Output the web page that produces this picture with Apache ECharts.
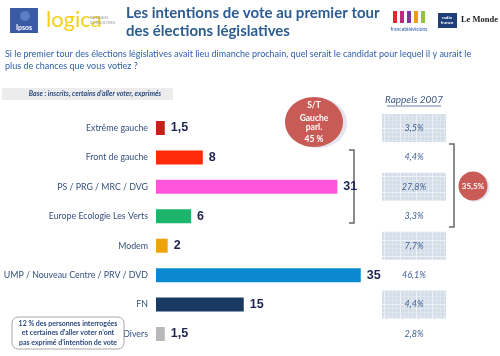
<!DOCTYPE html>
<html><head><meta charset="utf-8">
<script src="https://cdn.jsdelivr.net/npm/echarts@6/dist/echarts.min.js"></script>
<style>html,body{margin:0;padding:0;background:#fff}#c{width:500px;height:356px}</style>
</head><body><div id="c"></div>
<script>
const categories = ["Extrême gauche","Front de gauche","PS / PRG / MRC / DVG","Europe Ecologie Les Verts","Modem","UMP / Nouveau Centre / PRV / DVD","FN","Divers"];
const values = [1.5, 8, 31, 6, 2, 35, 15, 1.5];
const barColors = ["#c4201a","#ff2a0a","#ff55dd","#1db56c","#f0a20c","#0a88d0","#1b3a63","#b9b9b9"];
const rappels2007 = [3.5, 4.4, 27.8, 3.3, 7.7, 46.1, 4.4, 2.8];
const rappelBoxed = [true, false, true, false, true, false, true, false];
const subtotalLeft = "45 %";
const subtotalRight = "35,5%";

const fmt = v => String(v).replace('.', ',');
const FONT = 'Lato';

// grid-paper pattern
const tile = document.createElement('canvas');
tile.width = 16; tile.height = 16;
const g = tile.getContext('2d');
g.fillStyle = '#d4dee9'; g.fillRect(0,0,16,16);
g.fillStyle = '#dfe6ee';
for (let i=0;i<16;i+=4){ g.fillRect(i,0,1,16); g.fillRect(0,i,16,1); }
g.fillStyle = '#eef2f7'; g.fillRect(0,0,1,16); g.fillRect(0,0,16,1);

const chart = echarts.init(document.getElementById('c'), null, {renderer:'canvas'});
const option = {
  backgroundColor:'#ffffff',
  animation:false,
  grid:[
    {left:156, top:113.3, width:234, height:235.4, containLabel:false, outerBoundsMode:'none'},
    {left:382, top:113.3, width:64, height:235.4, containLabel:false, outerBoundsMode:'none'}
  ],
  xAxis:[
    {type:'value', gridIndex:0, min:0, max:40, show:false},
    {type:'value', gridIndex:1, min:0, max:1, show:false}
  ],
  yAxis:[
    {type:'category', gridIndex:0, data:categories, inverse:true,
     axisLine:{show:false}, axisTick:{show:false}, splitLine:{show:false},
     axisLabel:{color:'#34507f', fontSize:8.8, fontFamily:FONT, margin:8}},
    {type:'category', gridIndex:1, data:categories, inverse:true, show:false}
  ],
  series:[
    {type:'bar', xAxisIndex:0, yAxisIndex:0, barWidth:14,
     data: values.map((v,i)=>({value:v, itemStyle:{color:barColors[i]}})),
     label:{show:true, position:'right', distance:6, formatter:p=>fmt(p.value),
            color:'#1f2452', fontSize:12.5, fontWeight:'bold', fontFamily:'Liberation Sans'}},
    {type:'custom', xAxisIndex:1, yAxisIndex:1,
     data: rappels2007.map((v,i)=>[i, v]),
     encode:{y:0, x:1},
     renderItem:(params, api)=>{
       const idx = api.value(0);
       const c = api.coord([0, idx]);
       const x0 = params.coordSys.x, w = params.coordSys.width;
       const children = [];
       if (rappelBoxed[idx]) {
         children.push({type:'rect', shape:{x:x0, y:c[1]-14, width:w, height:28},
           style:{fill:{image:tile, repeat:'repeat'}}});
       }
       children.push({type:'text', style:{text:fmt(rappels2007[idx])+'%', x:x0+w/2, y:c[1],
         align:'center', verticalAlign:'middle', fill:'#3d5e93', font:'italic 9px '+FONT}});
       return {type:'group', children};
     }}
  ],
  graphic:[
    // Ipsos logo
    {type:'rect', shape:{x:10,y:8,width:28,height:25}, style:{fill:'#3b5aa6'}},
    {type:'circle', shape:{cx:25,cy:16,r:5}, style:{fill:'#5d7ec4'}},
    {type:'text', style:{text:'Ipsos', x:24, y:28, align:'center', verticalAlign:'middle', fill:'#fff', font:'bold 7px '+FONT}},
    // logica
    {type:'text', style:{text:'logica', x:46, y:20, verticalAlign:'middle', fill:'#f2cf1a', font:'22px '+FONT}},
    {type:'text', style:{text:'BUSINESS\nCONSULTING', x:90, y:20, verticalAlign:'middle', fill:'#9a9a9a', font:'4px '+FONT, lineHeight:5}},
    // Title
    {type:'text', style:{text:'Les intentions de vote au premier tour', x:126, y:13, verticalAlign:'middle', fill:'#2b5c92', font:'bold 15px '+FONT}},
    {type:'text', style:{text:'des élections législatives', x:126, y:31, verticalAlign:'middle', fill:'#2b5c92', font:'bold 15px '+FONT}},
    // France televisions
    {type:'rect', shape:{x:393,y:11,width:4,height:12}, style:{fill:'#e8262b'}},
    {type:'rect', shape:{x:400,y:11,width:4,height:12}, style:{fill:'#c3277e'}},
    {type:'rect', shape:{x:407,y:11,width:4,height:12}, style:{fill:'#7a3a96'}},
    {type:'rect', shape:{x:414,y:11,width:4,height:12}, style:{fill:'#f29a1e'}},
    {type:'rect', shape:{x:421,y:11,width:4,height:12}, style:{fill:'#8cc63e'}},
    {type:'text', style:{text:'francetélévisions', x:409, y:29, align:'center', verticalAlign:'middle', fill:'#2a5db0', font:'5px '+FONT}},
    // Radio France
    {type:'rect', shape:{x:438,y:13,width:19,height:15}, style:{fill:'#1f3f7a'}},
    {type:'text', style:{text:'radio\nfrance', x:447, y:20, align:'center', verticalAlign:'middle', fill:'#fff', font:'bold 4.5px '+FONT, lineHeight:5}},
    // Le Monde
    {type:'text', style:{text:'Le Monde', x:498, y:20, align:'right', verticalAlign:'middle', fill:'#222', font:'bold 8.5px "Liberation Serif"'}},
    // Question
    {type:'text', style:{text:'Si le premier tour des élections législatives avait lieu dimanche prochain, quel serait le candidat pour lequel il y aurait le', x:5, y:54, verticalAlign:'middle', fill:'#2f5fa8', font:'9px '+FONT}},
    {type:'text', style:{text:'plus de chances que vous votiez ?', x:5, y:66, verticalAlign:'middle', fill:'#2f5fa8', font:'9px '+FONT}},
    // Base box
    {type:'rect', shape:{x:2,y:88,width:171,height:12}, style:{fill:'#ececec'}},
    {type:'text', style:{text:'Base : inscrits, certains d\u2019aller voter, exprimés', x:95, y:94, align:'center', verticalAlign:'middle', fill:'#2b4a80', font:'italic bold 7px '+FONT}},
    // Rappels 2007
    {type:'text', style:{text:'Rappels 2007', x:414, y:100, align:'center', verticalAlign:'middle', fill:'#3d5a8a', font:'italic 10px '+FONT}},
    {type:'line', shape:{x1:387,y1:106,x2:441,y2:106}, style:{stroke:'#3d5a8a', lineWidth:0.8}},
    // bubble left
    {type:'ellipse', shape:{cx:318,cy:123,rx:29,ry:25}, style:{fill:'#e2e5f0'}},
    {type:'ellipse', shape:{cx:314,cy:122,rx:29,ry:25}, style:{fill:'#c95b56'}},
    {type:'text', style:{text:'S/T', x:314, y:105, align:'center', verticalAlign:'middle', fill:'#fff', font:'bold 8.5px '+FONT}},
    {type:'text', style:{text:'Gauche', x:314, y:118, align:'center', verticalAlign:'middle', fill:'#fff', font:'bold 8.5px '+FONT}},
    {type:'text', style:{text:'parl.', x:314, y:127, align:'center', verticalAlign:'middle', fill:'#fff', font:'bold 8.5px '+FONT}},
    {type:'text', style:{text:subtotalLeft, x:314, y:139, align:'center', verticalAlign:'middle', fill:'#fff', font:'bold 8.5px '+FONT}},
    // brackets
    {type:'polyline', shape:{points:[[349,150],[354,150],[354,223],[349,223]]}, style:{stroke:'#666', lineWidth:1.5, fill:null}},
    {type:'polyline', shape:{points:[[449,144],[454,144],[454,227],[449,227]]}, style:{stroke:'#666', lineWidth:1.5, fill:null}},
    // bubble right
    {type:'circle', shape:{cx:475,cy:187,r:14.5}, style:{fill:'#e2e5f0'}},
    {type:'circle', shape:{cx:473,cy:186,r:14.5}, style:{fill:'#c95b56'}},
    {type:'text', style:{text:subtotalRight, x:473, y:186, align:'center', verticalAlign:'middle', fill:'#fff', font:'bold 8px '+FONT}},
    // note box
    {type:'rect', z:100, shape:{x:12,y:317,width:112,height:32,r:6}, style:{fill:'#ffffff', stroke:'#a8a8a8', lineWidth:1}},
    {type:'text', z:101, style:{text:'12 % des personnes interrogées\net certaines d\u2019aller voter n\u2019ont\npas exprimé d\u2019intention de vote', x:68, y:333, align:'center', verticalAlign:'middle', fill:'#2a4a80', font:'bold 7px '+FONT, lineHeight:9.5}}
  ]
};
chart.setOption(option);
</script></body></html>
